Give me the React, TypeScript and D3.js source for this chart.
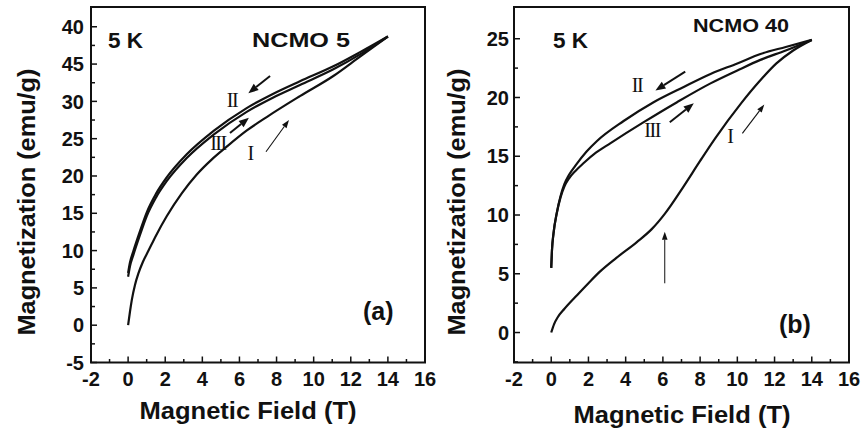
import React, { useRef, useEffect } from "react";
import * as d3 from "d3";

// (a) NCMO 5, field H (T) vs magnetization M (emu/g)
const ncmo5I = [[0, 0], [0.1, 1.8], [0.2, 3.4], [0.37, 5.4], [0.55, 6.9], [0.8, 8.5], [1.1, 10.0], [1.5, 12.0], [2.08, 14.6], [2.9, 17.7], [3.7, 20.2], [4.5, 22.2], [5.3, 23.9], [6.4, 26.1], [7.47, 27.9], [9.26, 30.7], [11.06, 33.4], [12.5, 36.0], [14, 38.7]];
const ncmo5II = [[0, 7.0], [0.1, 8.4], [0.28, 9.9], [0.64, 12.6], [1, 15.1], [1.5, 17.6], [2.08, 19.8], [3.16, 22.9], [4.59, 26.0], [6.39, 29.1], [7.8, 31.0], [9.26, 32.7], [11.06, 34.7], [12.5, 36.6], [14, 38.7]];
const ncmo5III = [[0, 6.5], [0.1, 7.9], [0.28, 9.4], [0.64, 12.1], [1, 14.6], [1.5, 17.1], [2.08, 19.3], [3.16, 22.4], [4.59, 25.5], [6.39, 28.6], [7.8, 30.5], [9.26, 32.2], [11.06, 34.3], [12.5, 36.3], [14, 38.7]];

// (b) NCMO 40
const ncmo40I = [[0, 0], [0.15, 0.7], [0.35, 1.3], [0.7, 2.0], [1.4, 3.2], [2.0, 4.2], [2.63, 5.2], [3.5, 6.35], [4.6, 7.7], [5.4, 8.8], [6.1, 10.1], [7.1, 12.4], [8.0, 14.6], [8.8, 16.5], [10.2, 19.5], [11.2, 21.4], [12.1, 22.9], [13.0, 24.0], [14, 24.9]];
const ncmo40II = [[0, 5.5], [0.04, 7.0], [0.12, 8.4], [0.3, 10.2], [0.5, 11.6], [0.7, 12.6], [0.95, 13.4], [1.3, 14.2], [1.9, 15.4], [2.46, 16.3], [3.89, 18.0], [5.5, 19.6], [7.12, 20.9], [8.56, 22.0], [10, 22.9], [11.24, 23.7], [12.6, 24.3], [14, 24.9]];
const ncmo40III = [[0, 5.5], [0.04, 7.0], [0.12, 8.4], [0.3, 10.15], [0.5, 11.5], [0.7, 12.4], [0.95, 13.1], [1.3, 13.75], [1.73, 14.4], [2.4, 15.3], [3.17, 16.1], [4.97, 17.9], [6.76, 19.6], [8.56, 21.2], [10, 22.3], [11.24, 23.2], [12.6, 24.0], [14, 24.9]];

const xTicks = [-2, 0, 2, 4, 6, 8, 10, 12, 14, 16];
const xMinor = [-1, 1, 3, 5, 7, 9, 11, 13, 15];
const yTicksA = [-5, 0, 5, 10, 15, 20, 25, 30, 35, 40];
const yTickLabelsA = ["-5", "0", "5", "10", "15", "20", "25", "30", "45", "40"];
const yMinorA = [-2.5, 2.5, 7.5, 12.5, 17.5, 22.5, 27.5, 32.5, 37.5];
const yTicksB = [0, 5, 10, 15, 20, 25];
const yTickLabelsB = ["0", "5", "10", "15", "20", "25"];
const yMinorB = [-2.5, 2.5, 7.5, 12.5, 17.5, 22.5];

// roman-numeral labels and arrows, in data units
const labelsA = [{ t: "II", h: 5.6, m: 30.2 }, { t: "III", h: 4.84, m: 24.4 }, { t: "I", h: 6.57, m: 23.1 }];
const arrowsA = [
  { from: [7.65, 33.4], to: [6.48, 31.1], w: 2 },
  { from: [5.49, 25.75], to: [6.51, 27.8], w: 2 },
  { from: [7.43, 23.25], to: [8.67, 27.5], w: 1.1 },
];
const labelsB = [{ t: "II", h: 4.61, m: 21.06 }, { t: "III", h: 5.42, m: 17.2 }, { t: "I", h: 9.6, m: 16.7 }];
const arrowsB = [
  { from: [7.2, 22.2], to: [5.6, 20.6], w: 2 },
  { from: [6.37, 17.9], to: [7.66, 19.5], w: 2 },
  { from: [10.27, 16.95], to: [11.45, 19.4], w: 1.1 },
  { from: [6.1, 4.19], to: [6.1, 8.58], w: 1 },
];

const panels = [
  {
    xr: [91, 425], yd: [-5, 42.65], series: [ncmo5I, ncmo5II, ncmo5III],
    yTicks: yTicksA, yLabels: yTickLabelsA, yMinor: yMinorA, yLabGap: 7,
    labels: labelsA, arrows: arrowsA, yTitleX: 27, xTitleX: 248, xTitleY: 419,
    sample: "NCMO 5", sampleX: 252, sampleY: 47, sampleW: 98, sampleSize: 21,
    temp: "5 K", tempX: 108, tag: "(a)", tagX: 363, tagY: 320,
  },
  {
    xr: [514, 849], yd: [-2.55, 27.7], series: [ncmo40I, ncmo40II, ncmo40III],
    yTicks: yTicksB, yLabels: yTickLabelsB, yMinor: yMinorB, yLabGap: 5,
    labels: labelsB, arrows: arrowsB, yTitleX: 457, xTitleX: 682, xTitleY: 423,
    sample: "NCMO 40", sampleX: 693, sampleY: 32, sampleW: 96, sampleSize: 19,
    temp: "5 K", tempX: 553, tag: "(b)", tagX: 779, tagY: 333,
  },
];

const sans = "'Liberation Sans', Arial, Helvetica, sans-serif";
const serif = "'Liberation Serif', 'Times New Roman', serif";

const App = () => {
  const svgRef = useRef(null);

  useEffect(() => {
    const svg = d3.select(svgRef.current);
    svg.selectAll("*").remove();

    panels.forEach(p => {
      const top = 7, bottom = 362.5;
      const x = d3.scaleLinear().domain([-2, 16]).range(p.xr);
      const y = d3.scaleLinear().domain(p.yd).range([bottom, top]);
      const g = svg.append("g");

      // curves
      const line = d3.line().x(d => x(d[0])).y(d => y(d[1])).curve(d3.curveMonotoneX);
      p.series.forEach(s => {
        g.append("path").attr("d", line(s)).attr("fill", "none")
          .attr("stroke", "#111").attr("stroke-width", 2.2).attr("stroke-linejoin", "round");
      });

      // frame
      g.append("rect").attr("x", p.xr[0]).attr("y", top)
        .attr("width", p.xr[1] - p.xr[0]).attr("height", bottom - top)
        .attr("fill", "none").attr("stroke", "#111").attr("stroke-width", 2);

      // ticks, pointing inward
      xTicks.forEach(t => {
        g.append("line").attr("x1", x(t)).attr("x2", x(t)).attr("y1", bottom).attr("y2", bottom - 6)
          .attr("stroke", "#111").attr("stroke-width", 1.5);
        g.append("text").attr("x", x(t)).attr("y", bottom + 23).attr("text-anchor", "middle")
          .attr("font-family", sans).attr("font-weight", "bold").attr("font-size", 20).attr("fill", "#111")
          .text(t);
      });
      xMinor.forEach(t => {
        g.append("line").attr("x1", x(t)).attr("x2", x(t)).attr("y1", bottom).attr("y2", bottom - 3.5)
          .attr("stroke", "#111").attr("stroke-width", 1.5);
      });
      p.yTicks.forEach((t, i) => {
        g.append("line").attr("x1", p.xr[0]).attr("x2", p.xr[0] + 6).attr("y1", y(t)).attr("y2", y(t))
          .attr("stroke", "#111").attr("stroke-width", 1.5);
        g.append("text").attr("x", p.xr[0] - p.yLabGap).attr("y", y(t)).attr("dy", "0.36em")
          .attr("text-anchor", "end").attr("font-family", sans).attr("font-weight", "bold")
          .attr("font-size", 20).attr("fill", "#111").text(p.yLabels[i]);
      });
      p.yMinor.forEach(t => {
        g.append("line").attr("x1", p.xr[0]).attr("x2", p.xr[0] + 4).attr("y1", y(t)).attr("y2", y(t))
          .attr("stroke", "#111").attr("stroke-width", 1.5);
      });

      // axis titles
      g.append("text").attr("x", p.xTitleX).attr("y", p.xTitleY).attr("text-anchor", "middle")
        .attr("font-family", sans).attr("font-weight", "bold").attr("font-size", 23)
        .attr("textLength", 217).attr("lengthAdjust", "spacingAndGlyphs").attr("fill", "#111")
        .text("Magnetic Field (T)");
      g.append("text").attr("transform", `translate(${p.yTitleX},202) rotate(-90)`)
        .attr("text-anchor", "middle").attr("dy", "0.35em")
        .attr("font-family", sans).attr("font-weight", "bold").attr("font-size", 23)
        .attr("textLength", 267).attr("lengthAdjust", "spacingAndGlyphs").attr("fill", "#111")
        .text("Magnetization (emu/g)");

      // in-plot text
      g.append("text").attr("x", p.tempX).attr("y", 48).attr("font-family", sans).attr("font-weight", "bold")
        .attr("font-size", 22).attr("textLength", 35).attr("lengthAdjust", "spacingAndGlyphs")
        .attr("fill", "#111").text(p.temp);
      g.append("text").attr("x", p.sampleX).attr("y", p.sampleY).attr("font-family", sans).attr("font-weight", "bold")
        .attr("font-size", p.sampleSize).attr("textLength", p.sampleW).attr("lengthAdjust", "spacingAndGlyphs")
        .attr("fill", "#111").text(p.sample);
      g.append("text").attr("x", p.tagX).attr("y", p.tagY).attr("font-family", sans).attr("font-weight", "bold")
        .attr("font-size", 25).attr("fill", "#111").text(p.tag);

      p.labels.forEach(l => {
        g.append("text").attr("x", x(l.h)).attr("y", y(l.m)).attr("dy", "0.35em").attr("text-anchor", "middle")
          .attr("font-family", serif).attr("font-size", 20).attr("letter-spacing", -1.5)
          .attr("fill", "#111").text(l.t);
      });

      p.arrows.forEach(a => {
        const x1 = x(a.from[0]), y1 = y(a.from[1]), x2 = x(a.to[0]), y2 = y(a.to[1]);
        const ang = Math.atan2(y2 - y1, x2 - x1);
        const L = a.w > 1.5 ? 10 : 8, W = a.w > 1.5 ? 4 : 2.8;
        const bx = x2 - L * Math.cos(ang), by = y2 - L * Math.sin(ang);
        g.append("line").attr("x1", x1).attr("y1", y1).attr("x2", bx).attr("y2", by)
          .attr("stroke", "#111").attr("stroke-width", a.w);
        g.append("path")
          .attr("d", `M${x2},${y2}L${bx + W * Math.sin(ang)},${by - W * Math.cos(ang)}L${bx - W * Math.sin(ang)},${by + W * Math.cos(ang)}Z`)
          .attr("fill", "#111");
      });
    });
  }, []);

  return (
    <svg ref={svgRef} width={862} height={430}
      style={{ position: "absolute", left: 0, top: 0, background: "#fff" }}></svg>
  );
};

export default App;
